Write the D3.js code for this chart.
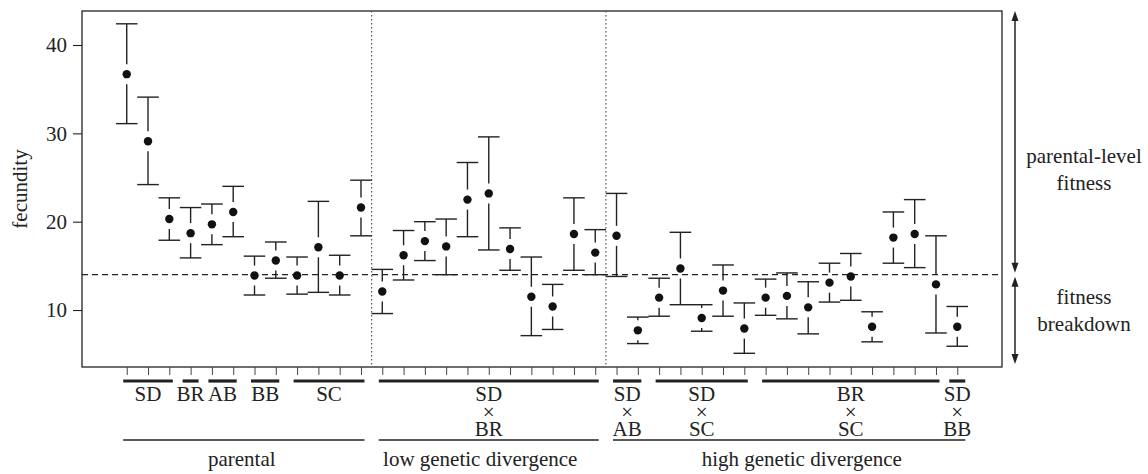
<!DOCTYPE html>
<html>
<head>
<meta charset="utf-8">
<script src="https://cdn.jsdelivr.net/npm/d3@7"></script>
<style>
  body { margin: 0; background: #fff; }
  svg text { font-family: "Liberation Serif", "Times New Roman", "DejaVu Serif", serif; fill: #222; }
</style>
</head>
<body>
<svg id="chart" width="1148" height="474"></svg>
<script>
// mean fecundity per cross, with lower / upper interval ends
const fecundity = [36.7, 29.1, 20.3, 18.7, 19.7, 21.1, 13.9, 15.6, 13.9, 17.1, 13.9, 21.6,
  12.1, 16.2, 17.8, 17.2, 22.5, 23.2, 16.9, 11.5, 10.4, 18.6, 16.5,
  18.4, 7.7, 11.4, 14.7, 9.1, 12.2, 7.9, 11.4, 11.6, 10.3, 13.1, 13.8, 8.1, 18.2, 18.6, 12.9, 8.1];
const lower = [31.1, 24.2, 17.9, 15.9, 17.4, 18.3, 11.7, 13.6, 11.8, 12.0, 11.7, 18.4,
  9.6, 13.4, 15.6, 14.0, 18.3, 16.8, 14.5, 7.1, 7.8, 14.5, 14.0,
  13.8, 6.2, 9.3, 10.6, 7.6, 9.3, 5.1, 9.4, 9.0, 7.3, 10.9, 11.1, 6.4, 15.3, 14.8, 7.4, 5.9];
const upper = [42.4, 34.1, 22.7, 21.6, 22.0, 24.0, 16.1, 17.7, 16.0, 22.3, 16.2, 24.7,
  14.6, 19.0, 20.0, 20.3, 26.7, 29.6, 19.3, 16.0, 12.9, 22.7, 19.1,
  23.2, 9.2, 13.6, 18.8, 10.6, 15.1, 10.8, 13.5, 14.2, 13.2, 15.3, 16.4, 9.8, 21.1, 22.5, 18.4, 10.4];

// cross types (label lines) and how many populations each has
const crossLabels = [["SD"], ["BR"], ["AB"], ["BB"], ["SC"],
  ["SD", "×", "BR"], ["SD", "×", "AB"], ["SD", "×", "SC"], ["BR", "×", "SC"], ["SD", "×", "BB"]];
const crossSizes = [3, 1, 2, 2, 4, 11, 2, 5, 9, 1];

// divergence classes: how many cross types each covers, label anchor (index units)
const divisions = ["parental", "low genetic divergence", "high genetic divergence"];
const divisionCrosses = [5, 1, 4];
const divisionLabelAt = [5.4, 16.6, 31.7];

const parentalLevel = 14;
const yTicks = [10, 20, 30, 40];
const sideLabels = [["parental-level", "fitness"], ["fitness", "breakdown"]];

const ink = "#222";
const serif = "'Liberation Serif', 'Times New Roman', 'DejaVu Serif', serif";
const svg = d3.select("#chart").attr("font-family", serif);
const plotLeft = 82, plotRight = 1002, plotTop = 11, plotBottom = 367;

const x = d3.scaleLinear().domain([-2.1, fecundity.length + 1.1]).range([plotLeft, plotRight]);
const y = d3.scaleLinear().domain([3.55, 43.85]).range([plotBottom, plotTop]);

// plot frame
svg.append("rect")
  .attr("x", plotLeft).attr("y", plotTop)
  .attr("width", plotRight - plotLeft).attr("height", plotBottom - plotTop)
  .attr("fill", "none").attr("stroke", ink).attr("stroke-width", 1.3);

// y axis
const yAxis = svg.append("g")
  .attr("transform", `translate(${plotLeft},0)`)
  .call(d3.axisLeft(y).tickValues(yTicks).tickSize(9).tickPadding(6));
yAxis.attr("font-family", serif);
yAxis.select(".domain").remove();
yAxis.selectAll("line").attr("stroke", ink).attr("stroke-width", 1.1);
yAxis.selectAll("text").attr("font-size", 21).attr("fill", ink);

svg.append("text")
  .attr("transform", `translate(27,${(plotTop + plotBottom) / 2}) rotate(-90)`)
  .attr("text-anchor", "middle")
  .attr("font-size", 21)
  .text("fecundity");

// bottom ticks at each population
const xAxis = svg.append("g")
  .attr("transform", `translate(0,${plotBottom})`)
  .call(d3.axisBottom(x).tickValues(d3.range(fecundity.length)).tickSize(8).tickFormat(""));
xAxis.select(".domain").remove();
xAxis.selectAll("line").attr("stroke", "#444").attr("stroke-width", 1);

// where each cross type / division starts
let start = 0;
const crossStart = [];
crossSizes.forEach(n => { crossStart.push(start); start += n; });
const divStartCross = [];
start = 0;
divisionCrosses.forEach(n => { divStartCross.push(start); start += n; });

// divider lines between divergence classes
divStartCross.slice(1).forEach(c => {
  const xi = x(crossStart[c] - 0.5);
  svg.append("line")
    .attr("x1", xi).attr("x2", xi).attr("y1", plotTop).attr("y2", plotBottom)
    .attr("stroke", "#555").attr("stroke-width", 1.2).attr("stroke-dasharray", "1.5,2.5");
});

// dashed parental level
svg.append("line")
  .attr("x1", plotLeft).attr("x2", plotRight)
  .attr("y1", y(parentalLevel)).attr("y2", y(parentalLevel))
  .attr("stroke", ink).attr("stroke-width", 1.2).attr("stroke-dasharray", "6,4");

// error bars with a gap around the point
const gap = 10, cap = 10.8;
const bars = svg.append("g").attr("stroke", ink).attr("stroke-width", 1.4);
fecundity.forEach((m, i) => {
  const xi = x(i), ym = y(m), yu = y(upper[i]), yl = y(lower[i]);
  if (ym - gap > yu) bars.append("line").attr("x1", xi).attr("x2", xi).attr("y1", yu).attr("y2", ym - gap);
  if (ym + gap < yl) bars.append("line").attr("x1", xi).attr("x2", xi).attr("y1", ym + gap).attr("y2", yl);
  bars.append("line").attr("x1", xi - cap).attr("x2", xi + cap).attr("y1", yu).attr("y2", yu);
  bars.append("line").attr("x1", xi - cap).attr("x2", xi + cap).attr("y1", yl).attr("y2", yl);
});

svg.append("g").selectAll("circle")
  .data(fecundity)
  .join("circle")
  .attr("cx", (d, i) => x(i))
  .attr("cy", d => y(d))
  .attr("r", 4.2)
  .attr("fill", "#111");

// cross type bars and labels
const crossSpan = crossSizes.map((n, k) => {
  const pad = n === 1 ? 8 : 3.5;
  return [x(crossStart[k]) - pad, x(crossStart[k] + n - 1) + pad];
});
crossSpan.forEach((s, k) => {
  svg.append("line")
    .attr("x1", s[0]).attr("x2", s[1]).attr("y1", 381).attr("y2", 381)
    .attr("stroke", ink).attr("stroke-width", 3.2);
  const t = svg.append("text")
    .attr("text-anchor", "middle")
    .attr("font-size", 21);
  crossLabels[k].forEach((line, j) => {
    t.append("tspan")
      .attr("x", (s[0] + s[1]) / 2)
      .attr("y", 401 + j * 17.5)
      .text(line);
  });
});

// divergence class lines and labels
divisions.forEach((name, d) => {
  const c0 = divStartCross[d], c1 = c0 + divisionCrosses[d] - 1;
  svg.append("line")
    .attr("x1", crossSpan[c0][0]).attr("x2", crossSpan[c1][1])
    .attr("y1", 440).attr("y2", 440)
    .attr("stroke", ink).attr("stroke-width", 1.4);
  svg.append("text")
    .attr("x", x(divisionLabelAt[d])).attr("y", 466)
    .attr("text-anchor", "middle")
    .attr("font-size", 21)
    .text(name);
});

// side arrows
const ax = 1015;
function arrow(y1, y2) {
  svg.append("line").attr("x1", ax).attr("x2", ax).attr("y1", y1 + 6).attr("y2", y2 - 6)
    .attr("stroke", ink).attr("stroke-width", 1.5);
  svg.append("path").attr("d", `M${ax},${y1}L${ax - 3.5},${y1 + 10}L${ax + 3.5},${y1 + 10}Z`).attr("fill", ink);
  svg.append("path").attr("d", `M${ax},${y2}L${ax - 3.5},${y2 - 10}L${ax + 3.5},${y2 - 10}Z`).attr("fill", ink);
}
arrow(plotTop, y(parentalLevel) - 2);
arrow(y(parentalLevel) + 2, plotBottom - 3);

const sideY = [[163, 190], [304, 331]];
sideLabels.forEach((lines, k) => {
  lines.forEach((line, j) => {
    svg.append("text")
      .attr("x", 1084).attr("y", sideY[k][j])
      .attr("text-anchor", "middle")
      .attr("font-size", 21)
      .text(line);
  });
});
</script>
</body>
</html>
